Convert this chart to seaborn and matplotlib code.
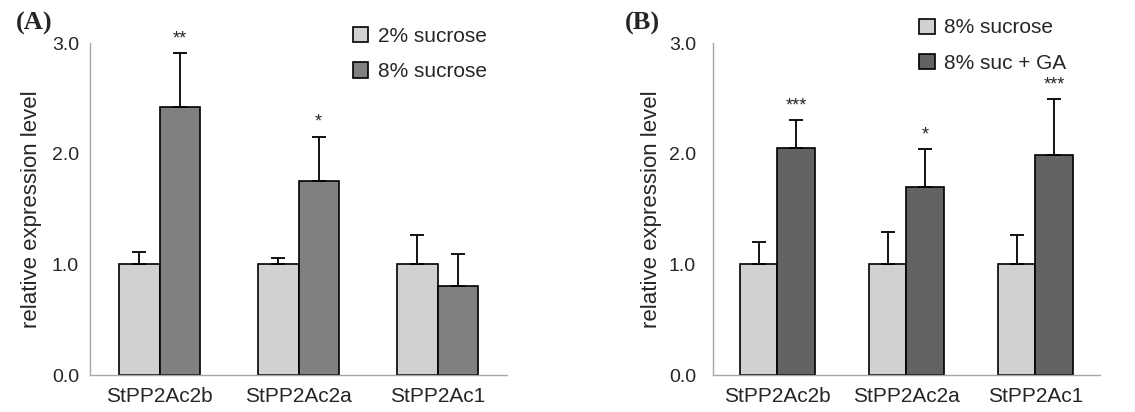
import matplotlib

matplotlib.use("Agg")
import matplotlib.pyplot as plt
import numpy as np
import pandas as pd
import seaborn as sns

GENES = ["StPP2Ac2b", "StPP2Ac2a", "StPP2Ac1"]

# panel A: sucrose levels
A_LEVELS = ["2% sucrose", "8% sucrose"]
A_LOW = [1.0, 1.0, 1.0]
A_LOW_ERR = [0.115, 0.055, 0.27]
A_HIGH = [2.425, 1.757, 0.805]
A_HIGH_ERR = [0.49, 0.40, 0.29]
A_STARS = ["**", "*", ""]

# panel B: sucrose + GA
B_LEVELS = ["8% sucrose", "8% suc + GA"]
B_LOW = [1.0, 1.0, 1.0]
B_LOW_ERR = [0.20, 0.29, 0.27]
B_HIGH = [2.055, 1.703, 1.99]
B_HIGH_ERR = [0.25, 0.34, 0.51]
B_STARS = ["***", "*", "***"]

LIGHT = "#d0d2d1"
SPINE = "#a6a6a6"

sns.set_style("white")
plt.rcParams["font.family"] = ["Liberation Sans", "DejaVu Sans"]


def make_frame(levels, low, high):
    return pd.DataFrame(
        {
            "gene": GENES * 2,
            "condition": [levels[0]] * 3 + [levels[1]] * 3,
            "value": low + high,
        }
    )


def draw_panel(ax, levels, low, low_err, high, high_err, stars, dark, legend_xy, ypad):
    data = make_frame(levels, low, high)
    sns.barplot(
        data=data,
        x="gene",
        y="value",
        hue="condition",
        hue_order=levels,
        palette=[LIGHT, dark],
        width=0.58,
        edgecolor="black",
        linewidth=1.2,
        errorbar=None,
        legend=False,
        ax=ax,
    )
    for cont, err in zip(ax.containers, [low_err, high_err]):
        xs = [b.get_x() + b.get_width() / 2 for b in cont]
        hs = [b.get_height() for b in cont]
        ax.errorbar(
            xs,
            hs,
            yerr=[np.zeros(len(err)), err],
            fmt="none",
            ecolor="black",
            elinewidth=1.3,
            capsize=5,
            capthick=1.3,
            zorder=1,
        )
    top_cont = ax.containers[1]
    for bar, err, s in zip(top_cont, high_err, stars):
        if not s:
            continue
        ax.annotate(
            s,
            (bar.get_x() + bar.get_width() / 2, bar.get_height() + err),
            xytext=(0, 4),
            textcoords="offset points",
            ha="center",
            va="bottom",
            fontsize=13,
            annotation_clip=False,
        )

    ax.set_ylim(0, 3.0)
    ax.set_xlim(-0.5, 2.5)
    ax.set_yticks([0, 1, 2, 3])
    ax.set_yticklabels(["0.0", "1.0", "2.0", "3.0"])
    ax.set_xticks([-0.5, 0.5, 1.5, 2.5], minor=True)
    ax.tick_params(axis="x", which="major", length=0, pad=9, labelsize=15)
    ax.tick_params(axis="x", which="minor", length=5, width=1, color=SPINE, direction="out")
    ax.tick_params(axis="y", length=5, width=1, color=SPINE, direction="out", pad=ypad, labelsize=14)
    ax.set_xlabel("")
    ax.set_ylabel("relative expression level", fontsize=16)
    sns.despine(ax=ax)
    for side in ["left", "bottom"]:
        ax.spines[side].set_color(SPINE)
        ax.spines[side].set_linewidth(1.0)

    ax.legend(
        ax.containers,
        levels,
        loc="upper left",
        bbox_to_anchor=legend_xy,
        frameon=False,
        fontsize=15,
        handlelength=0.75,
        handleheight=0.75,
        handletextpad=0.45,
        labelspacing=0.8,
        borderpad=0,
        borderaxespad=0,
    )


fig = plt.figure(figsize=(11.35, 4.12), dpi=100)
ax_a = fig.add_axes([90 / 1135, 37 / 412, 417 / 1135, 331.7 / 412])
ax_b = fig.add_axes([712.7 / 1135, 37 / 412, 387.3 / 1135, 331.7 / 412])

draw_panel(ax_a, A_LEVELS, A_LOW, A_LOW_ERR, A_HIGH, A_HIGH_ERR, A_STARS, "#808080", (0.63, 1.05), 3)
draw_panel(ax_b, B_LEVELS, B_LOW, B_LOW_ERR, B_HIGH, B_HIGH_ERR, B_STARS, "#636363", (0.533, 1.075), 7)
ax_a.yaxis.labelpad = 7
ax_b.yaxis.labelpad = 5

for x, lab in [(16 / 1135, "(A)"), (625 / 1135, "(B)")]:
    fig.text(x, 1 - 30 / 412, lab, fontsize=19, fontweight="bold", family=["Liberation Serif", "DejaVu Serif"])

fig.savefig("out.png", dpi=100, facecolor="white")
